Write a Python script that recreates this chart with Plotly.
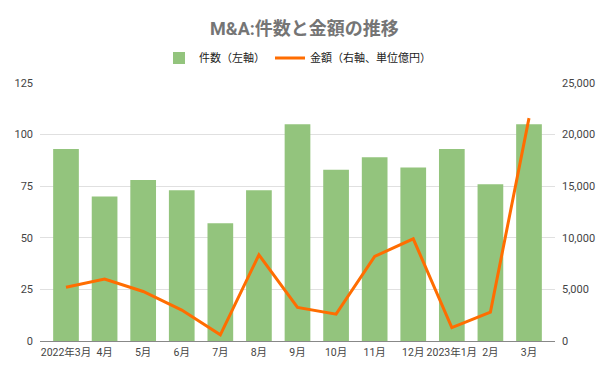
import plotly.graph_objects as go

months = ["2022年3月", "4月", "5月", "6月", "7月", "8月", "9月", "10月", "11月", "12月", "2023年1月", "2月", "3月"]
counts = [93, 70, 78, 73, 57, 73, 105, 83, 89, 84, 93, 76, 105]
amounts = [5200, 6000, 4800, 3000, 600, 8350, 3250, 2600, 8200, 9900, 1300, 2800, 21600]
left_ticks = [0, 25, 50, 75, 100, 125]
right_ticks = [0, 5000, 10000, 15000, 20000, 25000]

FONT = "Roboto, 'Noto Sans CJK JP', sans-serif"

fig = go.Figure()
fig.add_trace(go.Bar(
    x=months, y=counts, name="件数（左軸）",
    marker=dict(color="#93c47d", line=dict(width=0)),
    yaxis="y",
))
fig.add_trace(go.Scatter(
    x=months, y=amounts, name="金額（右軸、単位億円）",
    mode="lines", line=dict(color="#ff6d01", width=3),
    yaxis="y2",
))

fig.update_layout(
    width=609, height=377,
    margin=dict(l=40, r=54, t=83, b=36),
    paper_bgcolor="white", plot_bgcolor="white",
    font=dict(family=FONT, size=11, color="#444444"),
    title=dict(text="<b>M&A:件数と金額の推移</b>", x=0.5, xanchor="center", y=0.923, yanchor="middle",
               font=dict(family=FONT, size=18, color="#757575")),
    legend=dict(orientation="h", x=0.5, xanchor="center", y=1.097, yanchor="middle",
                font=dict(family=FONT, size=11, color="#222222"), itemwidth=30),
    bargap=0.334,
    xaxis=dict(type="category", range=[-0.674, len(months) - 1 + 0.674], showgrid=False, ticks="",
               showline=False, tickangle=0, automargin=False, ticklabelstandoff=3,
               tickfont=dict(size=10.5, color="#444444")),
    yaxis=dict(range=[0, 125], tickvals=left_ticks, showgrid=True, gridcolor="#e0e0e0",
               zeroline=True, zerolinecolor="#888888", zerolinewidth=1, automargin=False,
               tickfont=dict(size=11, color="#444444"), ticklabelstandoff=6),
    yaxis2=dict(range=[0, 25000], tickvals=right_ticks, overlaying="y", side="right",
                showgrid=False, zeroline=False, tickformat=",", automargin=False,
                tickfont=dict(size=11, color="#444444"), ticklabelstandoff=6),
)

fig.write_html("out.html", config={"displayModeBar": False},
               post_script="document.body.style.margin='0';")
